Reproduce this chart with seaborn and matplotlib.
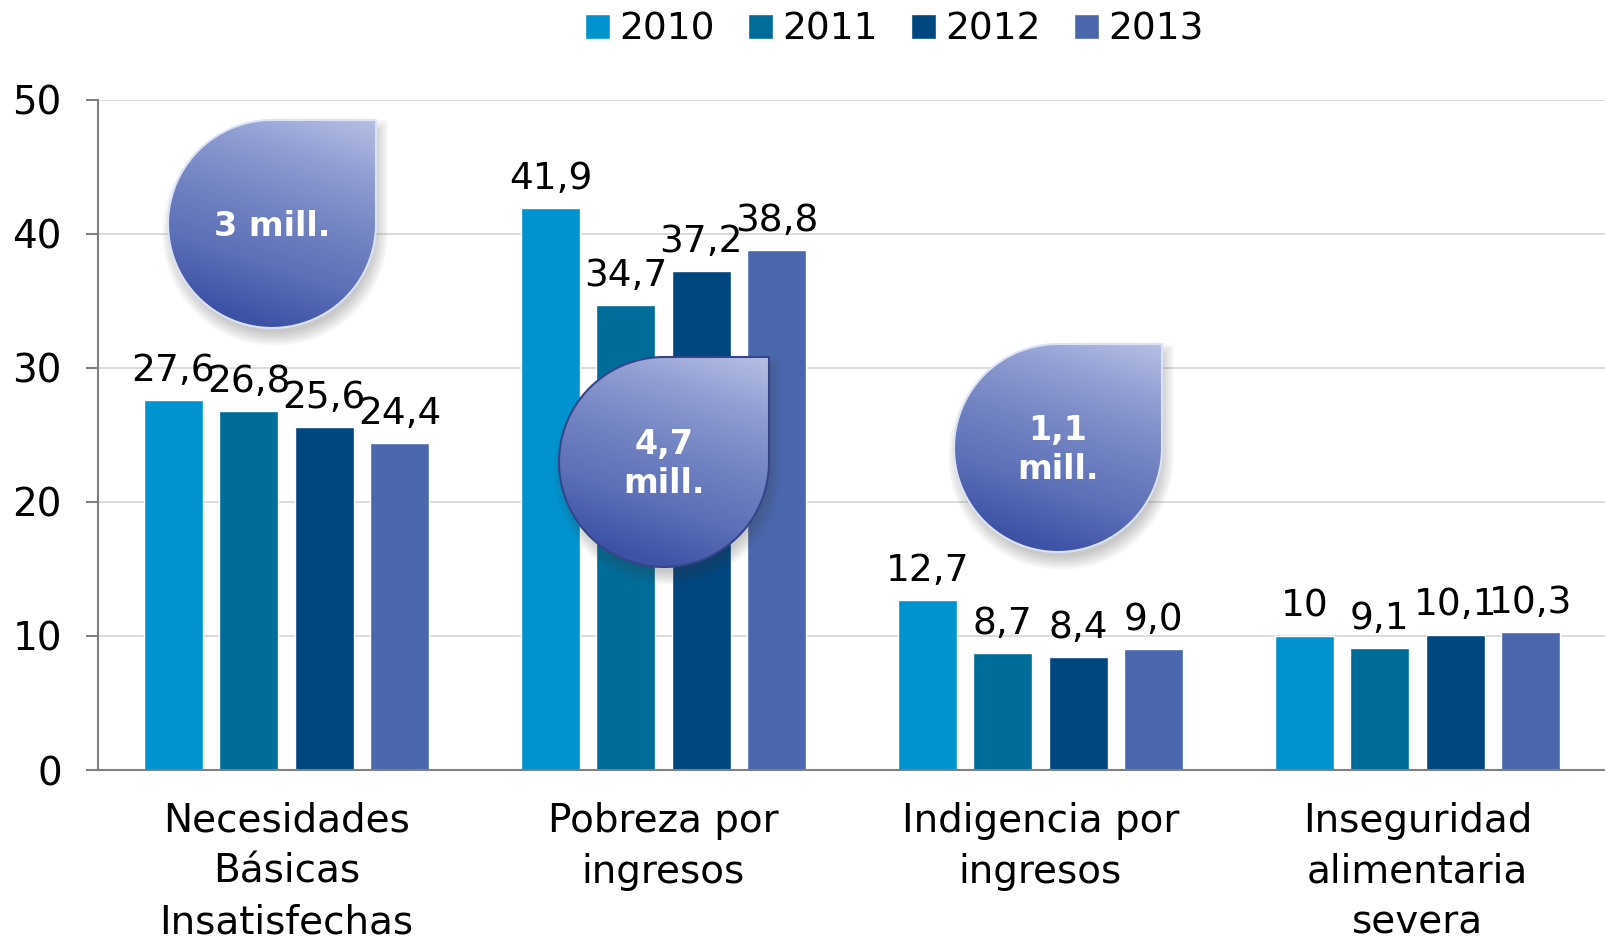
import numpy as np
import pandas as pd
import matplotlib
matplotlib.use("Agg")
import matplotlib.pyplot as plt
from matplotlib.patches import Polygon
from matplotlib.colors import LinearSegmentedColormap
import seaborn as sns

# ---------------- data ----------------
categories = ["Necesidades\nBásicas\nInsatisfechas", "Pobreza por\ningresos",
              "Indigencia por\ningresos", "Inseguridad\nalimentaria\nsevera"]
years = ["2010", "2011", "2012", "2013"]
v2010 = [27.6, 41.9, 12.7, 10.0]
v2011 = [26.8, 34.7, 8.7, 9.1]
v2012 = [25.6, 37.2, 8.4, 10.1]
v2013 = [24.4, 38.8, 9.0, 10.3]
lab2010 = ["27,6", "41,9", "12,7", "10"]
lab2011 = ["26,8", "34,7", "8,7", "9,1"]
lab2012 = ["25,6", "37,2", "8,4", "10,1"]
lab2013 = ["24,4", "38,8", "9,0", "10,3"]
drop_texts = ["3 mill.", "4,7\nmill.", "1,1\nmill."]
yticks = [0, 10, 20, 30, 40, 50]
colors = ["#0093D0", "#006C9A", "#00467F", "#4A66AD"]

series = [v2010, v2011, v2012, v2013]
labels = [lab2010, lab2011, lab2012, lab2013]
df = pd.DataFrame({
    "cat": [c for _ in years for c in categories],
    "year": [y for y in years for _ in categories],
    "val": [v for s in series for v in s],
})

# ---------------- figure ----------------
W, H = 1606, 947
sns.set_theme(style="white")
plt.rcParams["font.family"] = ["DejaVu Sans"]
plt.rcParams["text.color"] = "black"
fig = plt.figure(figsize=(W / 100, H / 100), dpi=100)
ax = fig.add_axes([98 / W, 1 - 770 / H, 1 - 98 / W, (770 - 99.5) / H])

sns.barplot(data=df, x="cat", y="val", hue="year", palette=colors,
            width=0.8, gap=0.215, errorbar=None, ax=ax, saturation=1,
            order=categories, hue_order=years)

for cont, lab in zip(ax.containers, labels):
    ax.bar_label(cont, labels=lab, padding=8, fontsize=27, color="black")

ax.set_xlim(-0.5, 3.5)
ax.set_ylim(0, 50)
ax.set_yticks(yticks)
ax.set_xlabel("")
ax.set_ylabel("")
ax.yaxis.grid(True, color="#D9D9D9", lw=1.3)
ax.set_axisbelow(True)
for s in ["top", "right"]:
    ax.spines[s].set_visible(False)
for s in ["left", "bottom"]:
    ax.spines[s].set_color("#808080")
    ax.spines[s].set_linewidth(1.5)
ax.tick_params(axis="y", labelsize=28, length=9, width=1.5, color="#808080",
               pad=17, left=True, labelcolor="black")
ax.tick_params(axis="x", labelsize=28, length=0, pad=23, labelcolor="black")
for t in ax.get_xticklabels():
    t.set_linespacing(1.42)

handles, leg_labels = ax.get_legend_handles_labels()
leg = ax.legend(handles, leg_labels, loc="center", bbox_to_anchor=(0.557, 1 - 30 / H),
                bbox_transform=fig.transFigure, ncol=4, frameon=False, fontsize=27,
                handlelength=0.65, handleheight=0.65, handletextpad=0.25,
                columnspacing=0.9, borderaxespad=0)
for t in leg.get_texts():
    t.set_color("black")

# ---------------- droplet callouts (pixel overlay) ----------------
ov = fig.add_axes([0, 0, 1, 1])
ov.set_xlim(0, W)
ov.set_ylim(H, 0)
ov.axis("off")
ov.patch.set_alpha(0)

cmap = LinearSegmentedColormap.from_list(
    "drop", ["#B6C0E5", "#909DD2", "#7384C3", "#5C6FB8", "#3D52A5"])

drops = [(272, 224, 104), (664, 462, 105), (1058, 448, 104)]
edge_cols = ["#DCE3F7", "#34458A", "#DCE3F7"]


def drop_poly(cx, cy, r):
    t = np.linspace(np.pi / 2, 2 * np.pi, 120)
    pts = np.column_stack([cx + r * np.cos(t), cy - r * np.sin(t)])
    pts = np.vstack([pts, [cx + r, cy - r]])
    return pts


for (cx, cy, r), txt, ec in zip(drops, drop_texts, edge_cols):
    # soft shadow
    for k in range(6):
        grow = 2 + k * 2.5
        sh = drop_poly(cx + 3, cy + 9, r + grow - 6)
        ov.add_patch(Polygon(sh, closed=True, facecolor="#404040",
                             edgecolor="none", alpha=0.05, zorder=1))
    poly = Polygon(drop_poly(cx, cy, r), closed=True, facecolor="none",
                   edgecolor=ec, lw=1.5, zorder=3)
    ov.add_patch(poly)
    n = 200
    nx, ny = np.meshgrid(np.linspace(-1, 1, n), np.linspace(-1, 1, n))
    s = 0.9 * ny - 0.3 * nx
    s = (s + 1.2) / 2.1
    im = ov.imshow(s, cmap=cmap, vmin=0, vmax=1,
                   extent=[cx - r, cx + r, cy + r, cy - r], zorder=2,
                   interpolation="bilinear", aspect="auto")
    im.set_clip_path(poly)
    ov.text(cx, cy + 2, txt, ha="center", va="center", color="white",
            fontsize=24, fontweight="bold", linespacing=1.2, zorder=4)

ov.set_xlim(0, W)
ov.set_ylim(H, 0)

fig.savefig("out.png", dpi=100)
